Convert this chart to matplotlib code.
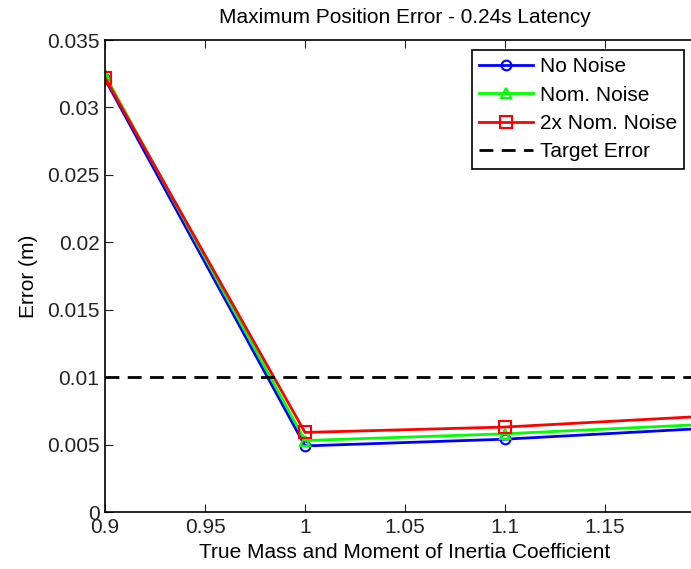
import matplotlib
matplotlib.use("Agg")
import matplotlib.pyplot as plt

plt.rcParams['font.family'] = ['Liberation Sans', 'DejaVu Sans']

# donnees
coef = [0.9, 1.0, 1.1, 1.2]
no_noise = [0.0321, 0.0049, 0.0054, 0.0062]
nom_noise = [0.0324, 0.0053, 0.0058, 0.0065]
noise_2x = [0.0322, 0.0059, 0.0063, 0.0071]
target = 0.01

xticks = [0.9, 0.95, 1, 1.05, 1.1, 1.15]
yticks = [0, 0.005, 0.01, 0.015, 0.02, 0.025, 0.03, 0.035]

fig = plt.figure(figsize=(6.91, 5.69), dpi=100)
# les axes depassent a droite (image recadree)
ax = fig.add_axes([105/691, 57/569, 600/691, 472/569])

ax.plot(coef, no_noise, color='blue', lw=2, marker='o', ms=7, mfc='none', mew=1.5, label='No Noise')
ax.plot(coef, nom_noise, color='#00ff00', lw=2, marker='^', ms=7, mfc='none', mew=1.5, label='Nom. Noise')
ax.plot(coef, noise_2x, color='red', lw=2, marker='s', ms=8, mfc='none', mew=1.5, label='2x Nom. Noise')
ax.axhline(target, color='black', lw=2, ls=(0, (5, 3)), label='Target Error')

ax.set_xlim(0.9, 1.2)
ax.set_ylim(0, 0.035)
ax.set_xticks(xticks)
ax.set_xticklabels(['0.9', '0.95', '1', '1.05', '1.1', '1.15'])
ax.set_yticks(yticks)
ax.set_yticklabels(['0', '0.005', '0.01', '0.015', '0.02', '0.025', '0.03', '0.035'])
ax.tick_params(direction='in', top=True, right=True, length=6, labelsize=15, colors='#222222', pad=4)
for s in ax.spines.values():
    s.set_linewidth(1.2)

ax.set_title('Maximum Position Error - 0.24s Latency', fontsize=15, pad=12)
ax.set_xlabel('True Mass and Moment of Inertia Coefficient', fontsize=15, labelpad=5)
ax.set_ylabel('Error (m)', fontsize=15, labelpad=6)

leg = ax.legend(loc='upper left', bbox_to_anchor=(472/691, 1 - 50/569), bbox_transform=fig.transFigure,
                fontsize=15, fancybox=False, edgecolor='black', framealpha=1,
                handlelength=2.6, handletextpad=0.3, labelspacing=0.45, borderpad=0.35, borderaxespad=0)
leg.get_frame().set_linewidth(1.2)

fig.savefig('out.png', dpi=100)
